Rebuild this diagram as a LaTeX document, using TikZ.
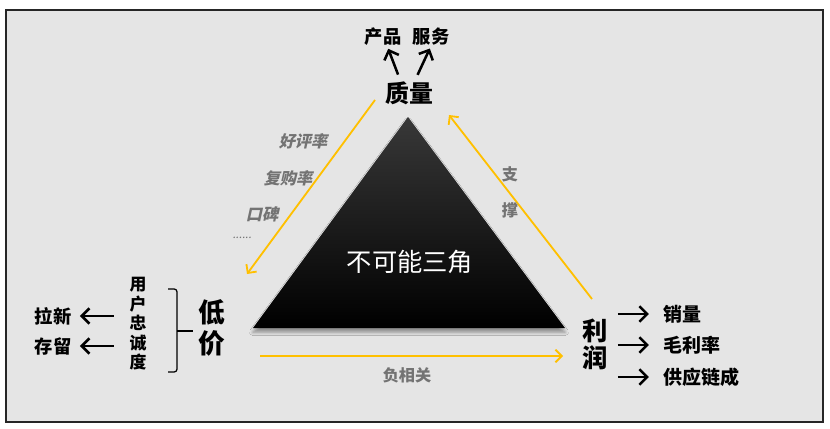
\documentclass[tikz,border=0pt]{standalone}
\usepackage{fontspec}
\setmainfont{Noto Sans CJK SC}
\newfontfamily\slantcjk{Noto Sans CJK SC}[FakeSlant=0.22]
\usetikzlibrary{arrows.meta,shadows.blur}
\definecolor{goldline}{RGB}{255,192,0}
\definecolor{panelgray}{RGB}{229,229,229}

\begin{document}
\begin{tikzpicture}[
  word/.style={inner sep=0pt, font=\bfseries\fontsize{13}{15}\selectfont},
  big/.style={inner sep=0pt, align=center, font=\bfseries\fontsize{18}{19.5}\selectfont},
  hint/.style={inner sep=0pt, text=black!55, font=\slantcjk\bfseries\fontsize{11.5}{13}\selectfont},
  grey/.style={inner sep=0pt, align=center, text=black!55, font=\bfseries\fontsize{11.5}{26}\selectfont},
  barr/.style={-{Straight Barb[length=5.5pt,width=11pt]}, line width=1.8pt},
  yarr/.style={-{Straight Barb[length=4.5pt,width=9pt]}, line width=1.3pt, goldline}
]
\useasboundingbox (0,0) rectangle (20.75,10.7);
\fill[white] (0,0) rectangle (20.75,10.7);
\draw[line width=1.4pt, black!85, fill=panelgray] (0.15,0.15) rectangle (20.575,10.45);

\shade[top color=black!78, middle color=black, bottom color=black,
  blur shadow={shadow xshift=0pt, shadow yshift=-3pt, shadow blur radius=2.5pt, shadow opacity=40}]
  (10.2,7.775) -- (14.125,2.5) -- (6.325,2.5) -- cycle;
\node[inner sep=0pt, text=white, font=\fontsize{18}{20}\selectfont] (tri) at (10.25,4.15) {不可能三角};

\node[big, font=\bfseries\fontsize{17}{19}\selectfont] (zl) at (10.225,8.375) {质量};
\node[word] (cp) at (9.575,9.775) {产品};
\node[word] (fw) at (10.775,9.775) {服务};
\draw[barr, shorten <=5pt, shorten >=2pt] ([xshift=-6pt]zl.north) -- ([xshift=3pt]cp.south);
\draw[barr, shorten <=5pt, shorten >=2pt] ([xshift=4pt]zl.north) -- (fw.south);

\node[big, font=\bfseries\fontsize{19}{22}\selectfont] (dj) at (5.3,2.5) {低\\价};
\draw[line width=0.9pt, rounded corners=2pt] (4.2,3.475) -- (4.425,3.475) -- (4.425,1.4) -- (4.2,1.4);
\draw[line width=0.9pt] (4.425,2.425) -- (4.825,2.425);
\node[word, align=center, font=\bfseries\fontsize{12}{13.9}\selectfont] (yh) at (3.45,2.6) {用\\户\\忠\\诚\\度};
\node[word] (lx) at (1.325,2.8) {拉新};
\node[word] (cl) at (1.325,2.05) {存留};
\draw[barr, shorten <=11pt, shorten >=6pt] (lx.east -| yh.west) -- (lx.east);
\draw[barr, shorten <=11pt, shorten >=6pt] (cl.east -| yh.west) -- (cl.east);

\node[big] (lr) at (14.875,2.09) {利\\润};
\node[word, anchor=west, font=\bfseries\fontsize{13.5}{15}\selectfont] (xl) at (16.575,2.85) {销量};
\node[word, anchor=west, font=\bfseries\fontsize{13.5}{15}\selectfont] (ml) at (16.575,2.075) {毛利率};
\node[word, anchor=west, font=\bfseries\fontsize{13.5}{15}\selectfont] (gy) at (16.575,1.275) {供应链成};
\draw[barr, shorten <=7pt, shorten >=10pt] (lr.east |- xl.west) -- (xl.west);
\draw[barr, shorten <=7pt, shorten >=10pt] (lr.east |- ml.west) -- (ml.west);
\draw[barr, shorten <=7pt, shorten >=10pt] (lr.east |- gy.west) -- (gy.west);

\coordinate (a1) at (9.375,8.2);
\coordinate (a2) at (6.175,3.85);
\coordinate (b1) at (14.8,3.225);
\coordinate (b2) at (11.225,7.825);
\coordinate (c1) at (6.5,1.8);
\coordinate (c2) at (14.075,1.8);
\draw[yarr] (a1) -- (a2);
\draw[yarr] (b1) -- (b2);
\draw[yarr] (c1) -- (c2);

\node[grey] (fx) at (10.175,1.325) {负相关};
\node[grey] (zc) at (12.75,5.8875) {支\\撑};
\node[hint] (hp) at (7.575,7.175) {好评率};
\node[hint] (fg) at (7.2,6.25) {复购率};
\node[hint] (kb) at (6.55,5.35) {口碑};
\node[hint, font=\slantcjk\fontsize{8}{9}\selectfont] (dd) at (6.05,4.75) {......};
\end{tikzpicture}
\end{document}
